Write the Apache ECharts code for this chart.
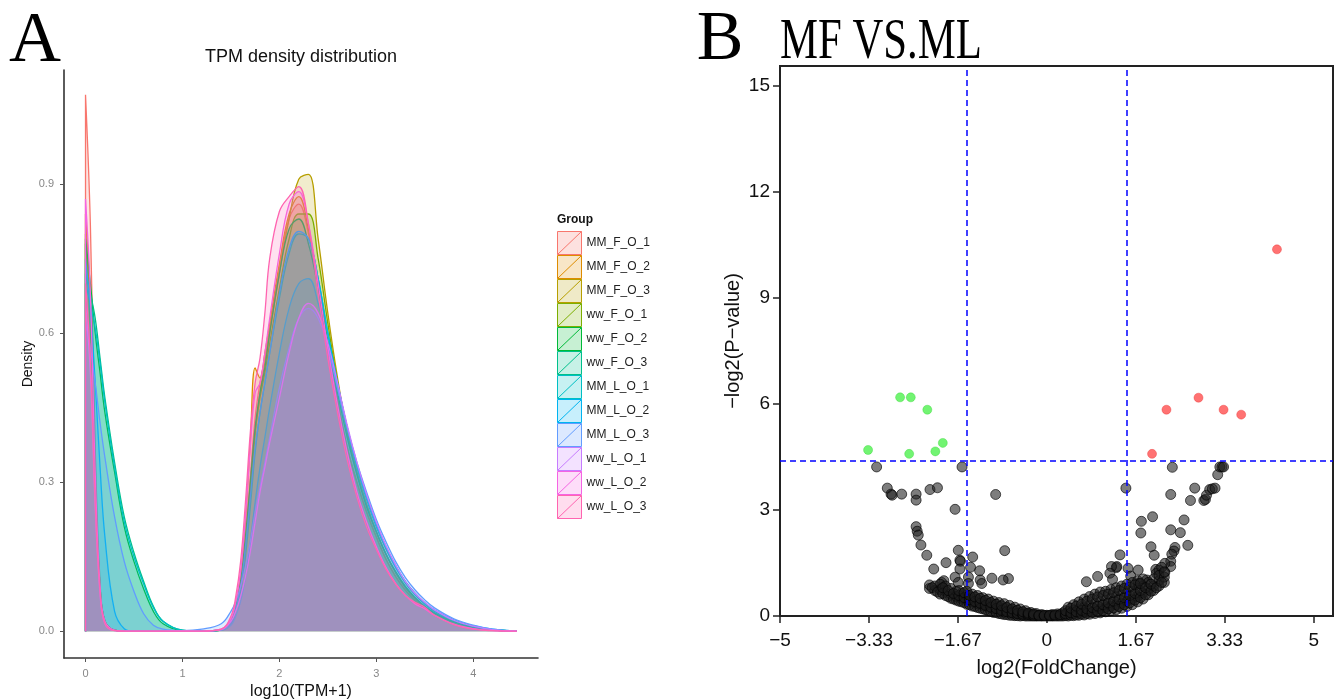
<!DOCTYPE html>
<html>
<head>
<meta charset="utf-8">
<script src="https://cdn.jsdelivr.net/npm/echarts@6/dist/echarts.min.js"></script>
<style>html,body{margin:0;padding:0;background:#fff}#c{width:1335px;height:700px}</style>
</head>
<body>
<div id="c"></div>
<script>
// ---------- Panel A data: density curves ----------
const densityX = [0, 0.05, 0.1, 0.15, 0.2, 0.3, 0.4, 0.5, 0.6, 0.7, 0.8, 1.0, 1.2, 1.4, 1.5, 1.55, 1.6, 1.65, 1.7, 1.75, 1.8, 1.85, 1.9, 2.0, 2.1, 2.2, 2.3, 2.4, 2.5, 2.6, 2.7, 2.8, 2.9, 3.0, 3.1, 3.2, 3.3, 3.4, 3.5, 3.6, 3.8, 4.0, 4.2, 4.45];
const groupNames = ['MM_F_O_1','MM_F_O_2','MM_F_O_3','ww_F_O_1','ww_F_O_2','ww_F_O_3','MM_L_O_1','MM_L_O_2','MM_L_O_3','ww_L_O_1','ww_L_O_2','ww_L_O_3'];
const dMM_F_O_1 = [1.08,0.82,0.37,0.10,0.02,0.002,0,0,0,0,0, 0,0,0.003, 0.02,0.05,0.10,0.19,0.31,0.43,0.50,0.55,0.61, 0.73,0.83,0.86,0.80,0.69,0.57,0.46,0.37,0.30,0.24, 0.19,0.145,0.11,0.083,0.062,0.046,0.034, 0.017,0.007,0.002,0];
const dMM_F_O_2 = [0.84,0.66,0.31,0.09,0.02,0.002,0,0,0,0,0, 0,0,0.003, 0.02,0.05,0.11,0.22,0.38,0.53,0.51,0.56,0.62, 0.74,0.84,0.875,0.81,0.70,0.58,0.47,0.37,0.30,0.24, 0.19,0.145,0.11,0.082,0.061,0.045,0.033, 0.016,0.006,0.002,0];
const dMM_F_O_3 = [0.80,0.63,0.30,0.09,0.02,0.002,0,0,0,0,0, 0,0,0.002, 0.015,0.04,0.09,0.17,0.28,0.40,0.48,0.54,0.60, 0.72,0.83,0.91,0.92,0.79,0.64,0.51,0.40,0.32,0.255, 0.20,0.155,0.118,0.088,0.065,0.048,0.035, 0.017,0.007,0.002,0];
const dww_F_O_1 = [0.78,0.61,0.29,0.09,0.02,0.002,0,0,0,0,0, 0,0,0.002, 0.015,0.04,0.09,0.17,0.28,0.40,0.47,0.52,0.58, 0.69,0.79,0.84,0.84,0.75,0.62,0.50,0.40,0.32,0.255, 0.20,0.155,0.118,0.088,0.066,0.049,0.036, 0.018,0.007,0.002,0];
const dww_F_O_2 = [0.79,0.70,0.60,0.52,0.44,0.32,0.21,0.14,0.085,0.04,0.015, 0.001,0,0.003, 0.02,0.05,0.10,0.19,0.30,0.41,0.48,0.53,0.60, 0.72,0.81,0.83,0.78,0.69,0.58,0.48,0.39,0.315,0.25, 0.20,0.155,0.12,0.09,0.068,0.05,0.037, 0.019,0.008,0.003,0];
const dww_F_O_3 = [0.72,0.68,0.63,0.55,0.47,0.34,0.23,0.158,0.10,0.05,0.02, 0.002,0,0.002, 0.015,0.04,0.08,0.15,0.25,0.36,0.44,0.50,0.56, 0.67,0.76,0.80,0.79,0.71,0.60,0.50,0.41,0.33,0.265, 0.21,0.165,0.128,0.097,0.073,0.054,0.04, 0.021,0.009,0.003,0];
const dMM_L_O_1 = [0.70,0.66,0.61,0.54,0.46,0.33,0.22,0.15,0.095,0.048,0.02, 0.002,0,0.002, 0.012,0.03,0.06,0.11,0.18,0.26,0.33,0.39,0.45, 0.56,0.65,0.70,0.71,0.66,0.58,0.49,0.41,0.335,0.27, 0.215,0.17,0.132,0.10,0.076,0.057,0.042, 0.022,0.01,0.003,0];
const dMM_L_O_2 = [0.75,0.65,0.50,0.33,0.19,0.04,0.005,0,0,0,0, 0,0,0.003, 0.018,0.045,0.09,0.17,0.27,0.37,0.44,0.50,0.56, 0.68,0.77,0.805,0.79,0.71,0.60,0.50,0.41,0.335,0.27, 0.215,0.17,0.13,0.10,0.076,0.057,0.043, 0.023,0.011,0.004,0];
const dMM_L_O_3 = [0.62,0.57,0.50,0.42,0.35,0.23,0.14,0.08,0.035,0.012,0.004, 0.001,0.004,0.015, 0.04,0.06,0.09,0.13,0.18,0.24,0.29,0.34,0.39, 0.49,0.57,0.63,0.65,0.63,0.57,0.49,0.41,0.34,0.28, 0.225,0.18,0.14,0.108,0.083,0.063,0.047, 0.025,0.012,0.004,0];
const dww_L_O_1 = [0.66,0.52,0.25,0.075,0.015,0.001,0,0,0,0,0, 0,0,0.003, 0.02,0.04,0.07,0.11,0.16,0.22,0.28,0.33,0.38, 0.47,0.56,0.63,0.66,0.64,0.58,0.50,0.415,0.34,0.275, 0.22,0.172,0.133,0.10,0.076,0.058,0.043, 0.022,0.01,0.003,0];
const dww_L_O_2 = [0.87,0.68,0.32,0.09,0.02,0.002,0,0,0,0,0, 0,0,0.004, 0.025,0.06,0.12,0.23,0.37,0.48,0.50,0.56,0.63, 0.76,0.86,0.885,0.82,0.70,0.57,0.455,0.36,0.28,0.22, 0.17,0.128,0.096,0.072,0.055,0.045,0.032, 0.014,0.005,0.001,0];
const dww_L_O_3 = [0.70,0.55,0.26,0.08,0.016,0.001,0,0,0,0,0, 0,0,0.004, 0.03,0.07,0.14,0.26,0.40,0.50,0.55,0.64,0.75, 0.845,0.875,0.895,0.82,0.68,0.55,0.44,0.345,0.27,0.21, 0.165,0.125,0.095,0.072,0.058,0.048,0.032, 0.013,0.004,0.001,0];
const densityY = [dMM_F_O_1,dMM_F_O_2,dMM_F_O_3,dww_F_O_1,dww_F_O_2,dww_F_O_3,dMM_L_O_1,dMM_L_O_2,dMM_L_O_3,dww_L_O_1,dww_L_O_2,dww_L_O_3];
const xTicksA = [0, 1, 2, 3, 4];
const yTicksA = [0, 0.3, 0.6, 0.9];

// ---------- Panel B data: volcano ----------
const xTicksB = [-5, -3.33, -1.67, 0, 1.67, 3.33, 5];
const yTicksB = [0, 3, 6, 9, 12, 15];
const fcCutoffs = [-1.5, 1.5];
const pCutoff = 4.39;
const downPoints = [[-3.35,4.70],[-2.75,6.19],[-2.55,6.19],[-2.24,5.84],[-2.58,4.59],[-2.09,4.66],[-1.95,4.90]];
const upPoints = [[1.97,4.59],[2.24,5.84],[2.84,6.18],[3.31,5.84],[3.64,5.70],[4.31,10.38]];
const nsScattered = [
 [-3.19,4.22],[-2.99,3.62],[-2.92,3.45],[-2.90,3.42],[-2.72,3.45],[-2.45,3.45],[-2.45,3.28],[-2.19,3.58],[-2.05,3.63],[-1.59,4.22],[-1.72,3.02],[-0.96,3.44],
 [-2.45,2.53],[-2.43,2.40],[-2.41,2.29],[-2.36,2.01],[-2.25,1.72],[-2.12,1.33],[-1.89,1.51],[-1.66,1.86],[-1.63,1.58],[-1.62,1.55],[-1.39,1.67],[-1.43,1.38],
 [-0.79,1.85],[-0.72,1.06],[-0.82,1.02],[-1.03,1.07],[-1.26,1.28],[-1.63,1.33],[-1.97,0.95],[-1.93,1.00],[-1.72,1.10],[-1.47,1.10],[-1.25,1.02],[-1.66,0.95],[-1.47,0.92],[-1.22,0.92],
 [1.48,3.62],[2.35,4.21],[2.32,3.44],[2.77,3.62],[2.69,3.27],[2.94,3.27],[2.97,3.30],[2.99,3.42],[3.05,3.58],[3.10,3.60],[3.15,3.62],[3.20,4.00],[3.24,4.22],[3.28,4.22],[3.31,4.22],
 [1.98,2.81],[1.77,2.68],[1.76,2.35],[2.32,2.44],[2.57,2.72],[2.50,2.36],[2.64,2.00],[2.40,1.94],[2.38,1.84],[2.34,1.75],[1.95,1.96],[2.01,1.72],[1.37,1.73],
 [2.32,1.55],[2.32,1.40],[2.21,1.23],[2.04,1.32],[1.71,1.30],[1.52,1.35],[1.30,1.37],[1.31,1.40],[1.21,1.40],[1.18,1.21],[0.95,1.12],[0.74,0.97],[1.23,1.04],
 [1.57,1.13],[1.87,1.02],[2.05,1.21],[2.21,1.49],[1.71,0.92],[2.10,1.30],[2.15,1.38]
];
const nsDense = [
 [-2.2,0.78],[-2.2,0.88],[-2.1,0.72],[-2.1,0.85],[-2.0,0.62],[-2.0,0.75],[-2.0,0.9],[-1.9,0.58],[-1.9,0.7],[-1.9,0.85],
 [-1.8,0.5],[-1.8,0.62],[-1.8,0.78],[-1.7,0.45],[-1.7,0.55],[-1.7,0.7],[-1.6,0.4],[-1.6,0.5],[-1.6,0.65],
 [-1.5,0.33],[-1.5,0.45],[-1.5,0.6],[-1.5,0.7],[-1.4,0.28],[-1.4,0.4],[-1.4,0.52],[-1.4,0.62],
 [-1.3,0.24],[-1.3,0.35],[-1.3,0.47],[-1.3,0.58],[-1.2,0.2],[-1.2,0.3],[-1.2,0.42],[-1.2,0.52],
 [-1.1,0.15],[-1.1,0.25],[-1.1,0.36],[-1.1,0.48],[-1.0,0.1],[-1.0,0.2],[-1.0,0.32],[-1.0,0.42],
 [-0.9,0.07],[-0.9,0.16],[-0.9,0.27],[-0.9,0.38],[-0.8,0.04],[-0.8,0.12],[-0.8,0.22],[-0.8,0.35],
 [-0.7,0.02],[-0.7,0.09],[-0.7,0.18],[-0.7,0.3],[-0.6,0.01],[-0.6,0.06],[-0.6,0.14],[-0.6,0.25],
 [-0.5,0],[-0.5,0.04],[-0.5,0.1],[-0.5,0.2],[-0.4,0],[-0.4,0.03],[-0.4,0.07],[-0.4,0.15],
 [-0.3,0],[-0.3,0.02],[-0.3,0.05],[-0.3,0.1],[-0.2,0],[-0.2,0.01],[-0.2,0.03],[-0.2,0.07],
 [-0.1,0],[-0.1,0.01],[-0.1,0.04],[0,0],[0,0.02],[0.1,0],[0.1,0.01],[0.1,0.04],
 [0.2,0],[0.2,0.02],[0.2,0.06],[0.3,0],[0.3,0.03],[0.3,0.09],[0.4,0],[0.4,0.04],[0.4,0.12],[0.4,0.25],
 [0.5,0.01],[0.5,0.06],[0.5,0.16],[0.5,0.32],[0.6,0.02],[0.6,0.08],[0.6,0.2],[0.6,0.4],
 [0.7,0.03],[0.7,0.11],[0.7,0.25],[0.7,0.48],[0.8,0.05],[0.8,0.14],[0.8,0.3],[0.8,0.55],
 [0.9,0.07],[0.9,0.17],[0.9,0.35],[0.9,0.62],[1.0,0.09],[1.0,0.2],[1.0,0.4],[1.0,0.68],
 [1.1,0.12],[1.1,0.24],[1.1,0.45],[1.1,0.7],[1.2,0.15],[1.2,0.28],[1.2,0.5],[1.2,0.75],
 [1.3,0.18],[1.3,0.32],[1.3,0.55],[1.3,0.8],[1.4,0.22],[1.4,0.36],[1.4,0.6],[1.4,0.85],
 [1.5,0.27],[1.5,0.42],[1.5,0.65],[1.5,0.9],[1.6,0.32],[1.6,0.48],[1.6,0.7],[1.6,0.95],
 [1.7,0.4],[1.7,0.55],[1.7,0.78],[1.7,1.0],[1.8,0.48],[1.8,0.65],[1.8,0.85],[1.8,1.05],
 [1.9,0.6],[1.9,0.75],[1.9,0.95],[2.0,0.72],[2.0,0.85],[2.0,1.05],[2.1,0.85],[2.1,1.0],[2.1,1.15],
 [2.2,0.95],[2.2,1.1],[2.2,1.25],
 [-2.15,0.8],[-2.05,0.68],[-1.95,0.64],[-1.95,0.8],[-1.85,0.55],[-1.85,0.72],[-1.75,0.48],[-1.75,0.64],[-1.65,0.42],[-1.65,0.58],[-1.65,0.72],
 [-1.55,0.38],[-1.55,0.52],[-1.55,0.66],[-1.45,0.32],[-1.45,0.46],[-1.45,0.58],[-1.35,0.27],[-1.35,0.41],[-1.35,0.54],[-1.25,0.22],[-1.25,0.36],[-1.25,0.5],
 [-1.15,0.18],[-1.15,0.3],[-1.15,0.44],[-1.05,0.13],[-1.05,0.25],[-1.05,0.38],[-0.95,0.1],[-0.95,0.21],[-0.95,0.33],[-0.85,0.06],[-0.85,0.16],[-0.85,0.29],
 [-0.75,0.04],[-0.75,0.12],[-0.75,0.24],[-0.65,0.02],[-0.65,0.09],[-0.65,0.2],[-0.55,0.01],[-0.55,0.07],[-0.55,0.16],[-0.45,0.01],[-0.45,0.05],[-0.45,0.12],
 [-0.35,0],[-0.35,0.04],[-0.35,0.08],[-0.25,0],[-0.25,0.02],[-0.25,0.06],[-0.15,0],[-0.15,0.02],[-0.05,0],[-0.05,0.02],[0.05,0],[0.05,0.02],[0.15,0],[0.15,0.03],
 [0.25,0],[0.25,0.04],[0.35,0.01],[0.35,0.06],[0.35,0.15],[0.45,0.02],[0.45,0.09],[0.45,0.22],[0.55,0.03],[0.55,0.12],[0.55,0.28],[0.65,0.05],[0.65,0.16],[0.65,0.34],
 [0.75,0.07],[0.75,0.2],[0.75,0.42],[0.85,0.1],[0.85,0.24],[0.85,0.48],[0.95,0.13],[0.95,0.28],[0.95,0.54],[1.05,0.15],[1.05,0.32],[1.05,0.58],
 [1.15,0.2],[1.15,0.37],[1.15,0.62],[1.25,0.23],[1.25,0.42],[1.25,0.66],[1.35,0.27],[1.35,0.47],[1.35,0.72],[1.45,0.32],[1.45,0.52],[1.45,0.78],
 [1.55,0.37],[1.55,0.58],[1.55,0.82],[1.65,0.45],[1.65,0.64],[1.65,0.88],[1.75,0.52],[1.75,0.72],[1.75,0.92],[1.85,0.6],[1.85,0.8],[1.95,0.7],[1.95,0.9],[2.05,0.8],[2.15,0.95]
];

// ---------- styling ----------
const palette = ['#F8766D','#DE8C00','#B79F00','#7CAE00','#00BA38','#00C08B','#00BFC4','#00B4F0','#619CFF','#C77CFF','#F564E3','#FF64B0'];
function rgba(hex, a){const n=parseInt(hex.slice(1),16);return 'rgba('+(n>>16&255)+','+(n>>8&255)+','+(n&255)+','+a+')';}
const SANS = "'Liberation Sans', Arial, sans-serif";
const SERIF = "'Liberation Serif', 'Times New Roman', serif";

const densitySeries = groupNames.map((name, i) => ({
  name, type: 'line', xAxisIndex: 0, yAxisIndex: 0,
  smooth: 0.4, showSymbol: false, symbol: 'none',
  lineStyle: {color: palette[i], width: 1.3},
  itemStyle: {color: palette[i]},
  areaStyle: {color: rgba(palette[i], 0.28)},
  data: [[0, 0]].concat(densityX.map((x, k) => [x, densityY[i][k]])),
  z: 2 + i
}));

const chart = echarts.init(document.getElementById('c'), null, {renderer: 'canvas'});
const fmtB = v => { const s = String(Math.abs(v)); return (v < 0 ? '\u2212' : '') + s; };

chart.setOption({
  animation: false,
  backgroundColor: '#fff',
  grid: [
    {left: 64, top: 70, width: 474, height: 588, show: false, outerBoundsMode: 'none', containLabel: false},
    {left: 780, top: 66, width: 553, height: 550, show: true, borderColor: '#222', borderWidth: 2, backgroundColor: 'transparent', outerBoundsMode: 'none', containLabel: false}
  ],
  xAxis: [
    {type: 'value', gridIndex: 0, min: -0.222, max: 4.668,
     splitLine: {show: false},
     axisLine: {onZero: false, lineStyle: {color: '#333', width: 1.6}},
     axisTick: {customValues: xTicksA, length: 4, lineStyle: {color: '#555', width: 1}},
     axisLabel: {customValues: xTicksA, color: '#888', fontSize: 11, fontFamily: SANS, margin: 10},
     name: 'log10(TPM+1)', nameLocation: 'middle', nameGap: 24,
     nameTextStyle: {fontSize: 16, color: '#111', fontFamily: SANS}},
    {type: 'value', gridIndex: 1, min: -5, max: 5.36,
     splitLine: {show: false},
     axisLine: {onZero: false, lineStyle: {color: '#222', width: 2}},
     axisTick: {customValues: xTicksB, length: 7, lineStyle: {color: '#222', width: 1.5}},
     axisLabel: {customValues: xTicksB, formatter: fmtB, color: '#111', fontSize: 19, fontFamily: SANS, margin: 15},
     name: 'log2(FoldChange)', nameLocation: 'middle', nameGap: 42,
     nameTextStyle: {fontSize: 20, color: '#111', fontFamily: SANS}}
  ],
  yAxis: [
    {type: 'value', gridIndex: 0, min: -0.054, max: 1.13,
     splitLine: {show: false},
     axisLine: {onZero: false, lineStyle: {color: '#333', width: 1.6}},
     axisTick: {customValues: yTicksA, length: 4, lineStyle: {color: '#555', width: 1}},
     axisLabel: {customValues: yTicksA, formatter: v => v.toFixed(1), color: '#888', fontSize: 11, fontFamily: SANS, margin: 10},
     name: 'Density', nameLocation: 'middle', nameGap: 29, nameRotate: 90,
     nameTextStyle: {fontSize: 14, color: '#111', fontFamily: SANS}},
    {type: 'value', gridIndex: 1, min: 0, max: 15.57,
     splitLine: {show: false},
     axisLine: {onZero: false, lineStyle: {color: '#222', width: 2}},
     axisTick: {customValues: yTicksB, length: 7, lineStyle: {color: '#222', width: 1.5}},
     axisLabel: {customValues: yTicksB, color: '#111', fontSize: 19, fontFamily: SANS, margin: 10},
     name: '\u2212log2(P\u2212value)', nameLocation: 'middle', nameGap: 37, nameRotate: 90,
     nameTextStyle: {fontSize: 20, color: '#111', fontFamily: SANS}}
  ],
  legend: {
    orient: 'vertical', left: 557, top: 231, padding: 0,
    itemWidth: 24, itemHeight: 23.4, itemGap: 0, selectedMode: false,
    icon: 'path://M0,0L24,0L24,23L0,23ZM0,23L24,0',
    textStyle: {fontSize: 12, color: '#222', fontFamily: SANS},
    data: groupNames.map((n, i) => ({name: n, itemStyle: {color: rgba(palette[i], 0.22), borderColor: palette[i], borderWidth: 1}}))
  },
  graphic: [
    {type: 'text', x: 35, y: 42, style: {text: 'A', fontFamily: SERIF, fontSize: 72, fill: '#000', textAlign: 'center', textVerticalAlign: 'middle'}},
    {type: 'text', x: 720, y: 41, style: {text: 'B', fontFamily: SERIF, fontSize: 70, fill: '#000', textAlign: 'center', textVerticalAlign: 'middle'}},
    {type: 'text', x: 780, y: 43, scaleX: 0.75, style: {text: 'MF VS.ML', fontFamily: SERIF, fontSize: 57, fill: '#000', textAlign: 'left', textVerticalAlign: 'middle'}},
    {type: 'text', x: 301, y: 57, style: {text: 'TPM density distribution', fontFamily: SANS, fontSize: 18, fill: '#111', textAlign: 'center', textVerticalAlign: 'middle'}},
    {type: 'text', x: 557, y: 220, style: {text: 'Group', fontFamily: SANS, fontSize: 12, fontWeight: 'bold', fill: '#111', textAlign: 'left', textVerticalAlign: 'middle'}}
  ],
  series: densitySeries.concat([
    {name: 'ns', type: 'scatter', xAxisIndex: 1, yAxisIndex: 1, clip: false,
     symbolSize: 10, data: nsScattered.concat(nsDense),
     itemStyle: {color: 'rgba(30,30,30,0.72)', borderColor: 'rgba(0,0,0,0.8)', borderWidth: 1}, z: 3},
    {name: 'down', type: 'scatter', xAxisIndex: 1, yAxisIndex: 1, clip: false,
     symbolSize: 9, data: downPoints,
     itemStyle: {color: 'rgba(60,240,60,0.9)', borderColor: 'rgba(40,210,40,0.9)', borderWidth: 0.5}, z: 4},
    {name: 'up', type: 'scatter', xAxisIndex: 1, yAxisIndex: 1, clip: false,
     symbolSize: 9, data: upPoints,
     itemStyle: {color: 'rgba(255,60,60,0.9)', borderColor: 'rgba(230,40,40,0.9)', borderWidth: 0.5}, z: 4},
    {name: 'cutoffs', type: 'scatter', xAxisIndex: 1, yAxisIndex: 1, data: [], z: 5,
     markLine: {silent: true, symbol: ['none', 'none'], label: {show: false},
       lineStyle: {color: '#0000ff', type: [6, 4], width: 1.5},
       data: fcCutoffs.map(v => ({xAxis: v})).concat([{yAxis: pCutoff}])}}
  ])
});
</script>
</body>
</html>
